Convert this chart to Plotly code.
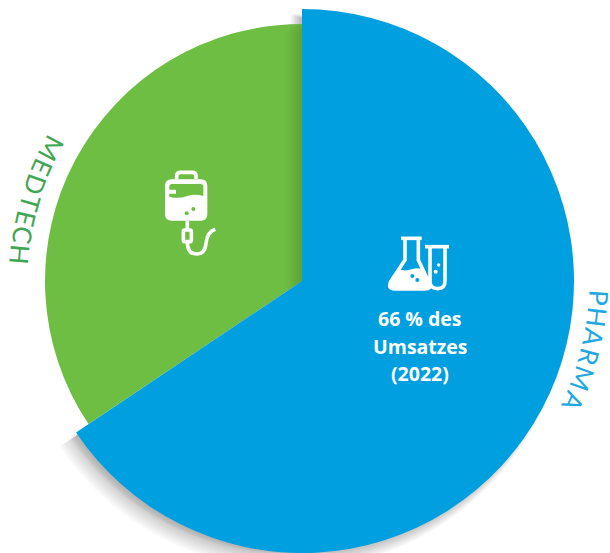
import re
import numpy as np
import plotly.graph_objects as go

# ---- data
categories = ["PHARMA", "MEDTECH"]
shares = [65.6, 34.4]
center_label = ["66 % des", "Umsatzes", "(2022)"]

# ---- style
W, H = 610, 553
BLUE, GREEN = "#009fdf", "#6fbe44"
BLUE_TXT, GREEN_TXT = "#22a8e0", "#3fa654"
CX, CY = 302.0, 281.0
R_BLUE, R_GREEN = 272.0, 257.0
CLEAR = "rgba(0,0,0,0)"
LETTER_W = dict(M=.92, E=.58, D=.74, T=.58, C=.66, H=.74, P=.58, A=.68, R=.62)


def dom(cx, cy, r):
    return dict(x=[max(0, (cx - r) / W), min(1, (cx + r) / W)],
                y=[max(0, 1 - (cy + r) / H), min(1, 1 - (cy - r) / H)])


def pie(cx, cy, r, colors):
    return go.Pie(values=shares, labels=categories, sort=False, direction="clockwise",
                  rotation=0, domain=dom(cx, cy, r), textinfo="none", hoverinfo="skip",
                  showlegend=False, marker=dict(colors=colors, line=dict(width=0)))


def px(x, y):
    return x / W, 1 - y / H


def tr_path(d, ox, oy, s=1 / 3):
    """Convert a path written in icon units to paper coordinates."""
    out, buf = [], []
    for tok in re.findall(r"[MLQCZ]|-?\d+\.?\d*", d):
        if tok.isalpha():
            out.append(tok)
        else:
            buf.append(float(tok))
            if len(buf) == 2:
                a, b = px(ox + buf[0] * s, oy + buf[1] * s)
                out.append(f"{a:.5f},{b:.5f}")
                buf = []
    return " ".join(out)


def icon(d, ox, oy, fill=None, stroke=None, width=3.6):
    return dict(type="path", path=tr_path(d, ox, oy), xref="paper", yref="paper",
                fillcolor=fill or CLEAR, line=dict(color=stroke or CLEAR, width=width if stroke else 0),
                layer="above")


def dot(x, y, r, ox, oy, col):
    x0, y0 = px(ox + (x - r) / 3, oy + (y - r) / 3)
    x1, y1 = px(ox + (x + r) / 3, oy + (y + r) / 3)
    return dict(type="circle", xref="paper", yref="paper", x0=x0, x1=x1, y0=y0, y1=y1,
                fillcolor=col, line=dict(width=0), layer="above")


# ---- shadow direction runs along the blue slice's far edge
end = np.deg2rad(shares[0] / sum(shares) * 360)
ex, ey = np.sin(end), -np.cos(end)

traces = [pie(CX, CY, R_GREEN, [CLEAR, GREEN])]
shapes = []
for t in np.linspace(2, 20, 14):
    sx, sy = CX + ex * t, CY + ey * t
    r = min(R_GREEN + ey * t, H - sy)
    traces.append(pie(sx, sy, r, ["rgba(40,60,40,0.009)", CLEAR]))
for t, e in zip(np.linspace(2, 14, 14), np.linspace(-5, 6, 14)):
    sx, sy = CX + ex * t, CY + ey * t + 3
    rr = R_BLUE + e
    a = np.linspace(0, end, 200)
    pts = [(sx, sy)] + list(zip(sx + rr * np.sin(a), sy - rr * np.cos(a)))
    path = "M" + " L".join("%.5f,%.5f" % px(*p) for p in pts) + " Z"
    shapes.append(dict(type="path", path=path, xref="paper", yref="paper", layer="below",
                       fillcolor="rgba(0,0,0,0.018)", line=dict(width=0)))
traces.append(pie(CX, CY, R_BLUE, [BLUE, CLEAR]))

# ---- icons
FX, FY = 370, 220
shapes += [
    icon("M93 55 L155 55", FX, FY, stroke="white"),
    icon("M105 55 L105 120 L62 185 Q52 207 75 207 L165 207 Q185 207 178 190 L145 120 L145 55", FX, FY, stroke="white"),
    icon("M85 148 Q105 155 125 148 Q145 140 162 150 L178 190 Q185 207 165 207 L75 207 Q52 207 62 185 Z", FX, FY, fill="white"),
    dot(127, 168, 6, FX, FY, BLUE), dot(142, 180, 6, FX, FY, BLUE),
    icon("M165 80 L237 80", FX, FY, stroke="white"),
    icon("M180 80 L180 183 Q180 206 203 206 Q225 206 225 183 L225 80", FX, FY, stroke="white"),
    dot(206, 135, 5, FX, FY, "white"), dot(197, 155, 6, FX, FY, "white"),
]
BX, BY = 150, 160
shapes += [
    icon("M80 58 L80 48 Q80 37 92 37 L126 37 Q138 37 138 48 L138 58", BX, BY, stroke="white"),
    icon("M65 58 L152 58 Q172 58 172 78 L172 162 Q172 182 152 182 L65 182 Q45 182 45 162 L45 78 Q45 58 65 58 Z", BX, BY, fill="white"),
    icon("M66 72 L152 72 Q160 72 160 80 L160 108 Q135 100 112 108 Q85 118 58 110 L58 101 L78 101 L78 89 L58 89 L58 80 Q58 72 66 72 Z", BX, BY, fill=GREEN),
    dot(110, 160, 6, BX, BY, GREEN), dot(130, 147, 6, BX, BY, GREEN),
    icon("M112 182 L112 210", BX, BY, stroke="white"),
    icon("M104 210 L120 210 Q124 210 124 214 L124 240 Q124 245 120 245 L104 245 Q100 245 100 240 L100 214 Q100 210 104 210 Z", BX, BY, stroke="white"),
    icon("M112 245 Q112 282 140 282 Q165 282 168 250 Q172 215 196 208", BX, BY, stroke="white"),
]

# ---- texts
annotations = []
for line, y in zip(center_label, [318, 346, 373]):
    ax, ay = px(420, y)
    annotations.append(dict(text=f"<b>{line}</b>", x=ax, y=ay, xref="paper", yref="paper",
                            showarrow=False, xanchor="center", yanchor="middle",
                            font=dict(family="Open Sans", size=19.5, color="white")))


def arc_text(word, start_deg, radius, sign, color, track, size=26):
    """sign=+1 runs clockwise on the right, -1 counter-clockwise on the left."""
    ang = start_deg
    for ch in word:
        w = LETTER_W[ch] * size * track
        ang_c = ang + sign * np.rad2deg(w / 2 / radius)
        th = np.deg2rad(ang_c)
        ax, ay = px(CX + radius * np.sin(th), CY - radius * np.cos(th))
        rot = ang_c if sign > 0 else ang_c + 180
        annotations.append(dict(text=ch, x=ax, y=ay, xref="paper", yref="paper", showarrow=False,
                                textangle=rot, xanchor="center", yanchor="middle",
                                font=dict(family="Lato", size=size, color=color)))
        ang = ang + sign * np.rad2deg(w / radius)


arc_text(categories[0], 91.5, 297, 1, BLUE_TXT, 1.15)
arc_text(categories[1], -59.5, 283, -1, GREEN_TXT, 1.08)

fig = go.Figure(traces)
fig.update_layout(width=W, height=H, margin=dict(l=0, r=0, t=0, b=0), paper_bgcolor="white",
                  plot_bgcolor="white", shapes=shapes, annotations=annotations, showlegend=False)
fig.write_html("out.html", config=dict(displayModeBar=False),
               post_script="document.body.style.margin='0';document.documentElement.style.overflow='hidden';")
